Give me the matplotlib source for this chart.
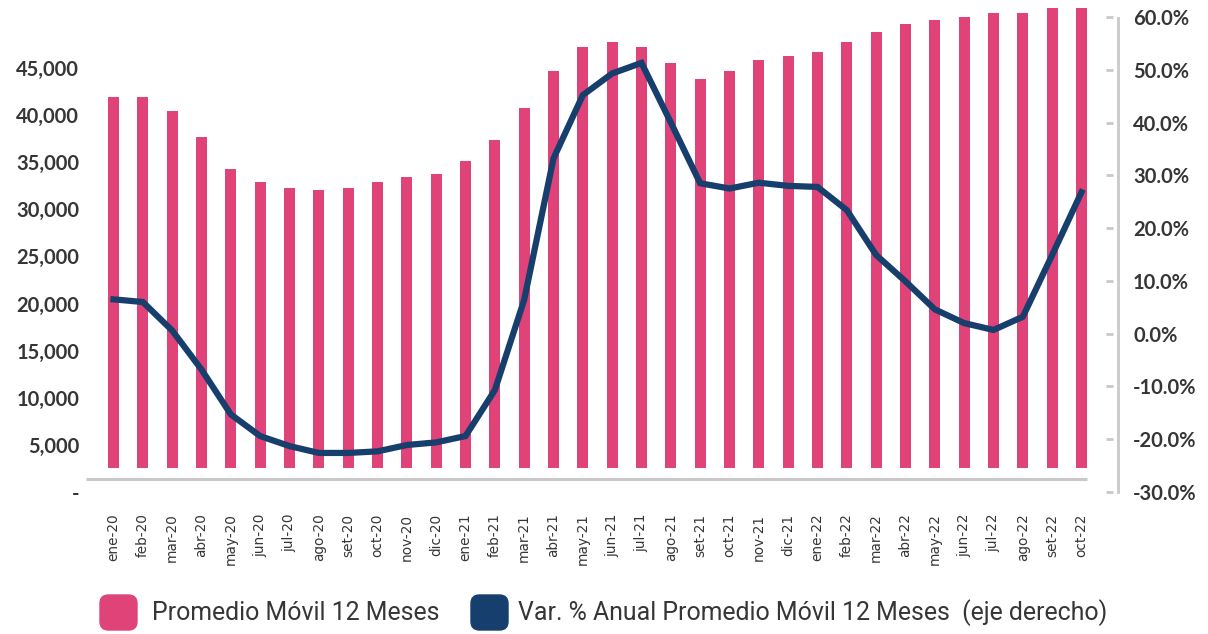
import numpy as np
import matplotlib
matplotlib.use("Agg")
import matplotlib.pyplot as plt
from matplotlib.lines import Line2D
from matplotlib.patches import FancyBboxPatch
from matplotlib.ticker import FuncFormatter

# meses ene-20 .. oct-22
meses = ["ene-20", "feb-20", "mar-20", "abr-20", "may-20", "jun-20", "jul-20", "ago-20",
         "set-20", "oct-20", "nov-20", "dic-20", "ene-21", "feb-21", "mar-21", "abr-21",
         "may-21", "jun-21", "jul-21", "ago-21", "set-21", "oct-21", "nov-21", "dic-21",
         "ene-22", "feb-22", "mar-22", "abr-22", "may-22", "jun-22", "jul-22", "ago-22",
         "set-22", "oct-22"]

# promedio movil 12 meses (eje izquierdo)
promedio = [41900, 41900, 40420, 37670, 34270, 32890, 32250, 32040,
            32250, 32890, 33420, 33740, 35120, 37350, 40740, 44670,
            47210, 47750, 47210, 45520, 43820, 44670, 45840, 46260,
            46690, 47750, 48810, 49660, 50050, 50400, 50820, 50820,
            51350, 51350]

# var. % anual del promedio movil (eje derecho)
var_anual = [6.5, 6.0, 0.6, -6.8, -15.3, -19.4, -21.3, -22.6,
             -22.6, -22.3, -21.1, -20.6, -19.4, -10.7, 6.4, 33.2,
             45.2, 49.3, 51.3, 40.0, 28.5, 27.5, 28.6, 28.0,
             27.8, 23.4, 14.9, 9.9, 4.6, 2.0, 0.7, 3.2,
             14.9, 26.8]

ticks_izq = np.arange(0, 45001, 5000)
ticks_der = np.arange(-30, 61, 10)

rosa = "#E04378"
azul = "#173F6E"
gris = "#C9C9C9"
texto = "#363636"

W, H = 1208, 634
fig = plt.figure(figsize=(W / 100, H / 100), dpi=100)
ax = fig.add_axes([86 / W, (H - 492) / H, (1113 - 86) / W, 492 / H])
ax2 = ax.twinx()

x = np.arange(len(meses))
px_x = (1081.5 - 113.5) / (len(meses) - 1)
ax.set_xlim(-(113.5 - 86) / px_x, len(meses) - 1 + (1113 - 1081.5) / px_x)

# escala izquierda: 5,000 cada ~47 px, eje derecho 10% cada ~53 px
px_val = 47.12 / 5000
ax.set_ylim(0, 492 / px_val)
ax2.set_ylim(-30, -30 + 492 / 5.278)

# barras recortadas por abajo, con la linea gris debajo
piso = 24 / px_val
ax.bar(x, np.array(promedio) - piso, bottom=piso, width=0.375, color=rosa, zorder=2)
ax.hlines(13 / px_val, ax.get_xlim()[0], len(meses) - 1 + 0.19, color=gris, lw=2.2, zorder=1)

ax2.plot(x, var_anual, color=azul, lw=4.5, solid_joinstyle="miter", zorder=3)

for a in (ax, ax2):
    for s in a.spines.values():
        s.set_visible(False)

ax.set_xticks(x)
ax.set_xticklabels(meses, rotation=90, fontsize=9.8, color=texto, family="DejaVu Sans",
                   va="top", ha="center")
ax.tick_params(axis="x", length=0, pad=15.5)

ax.set_yticks(ticks_izq)
ax.yaxis.set_major_formatter(FuncFormatter(lambda v, p: "-" if v == 0 else f"{v:,.0f}"))
ax.tick_params(axis="y", length=0, pad=5, labelsize=14.5, labelcolor=texto)
for t in ax.get_yticklabels():
    t.set_family("Lato")
    t.set_fontweight("bold")

ax2.set_yticks(ticks_der)
ax2.yaxis.set_major_formatter(FuncFormatter(lambda v, p: f"{v:.1f}%"))
ax2.tick_params(axis="y", direction="in", length=5, width=2, color=gris,
                pad=14.4, labelsize=14.5, labelcolor=texto)
for t in ax2.get_yticklabels():
    t.set_family("Lato")
    t.set_fontweight("bold")

# linea vertical del eje derecho
fig.add_artist(Line2D([1118 / W, 1118 / W], [(H - 492) / H, (H - 18) / H], color=gris, lw=2))

# leyenda
items = [(100, rosa, 152, "Promedio Móvil 12 Meses"),
         (471, azul, 518, "Var. % Anual Promedio Móvil 12 Meses  (eje derecho)")]
for x0, col, tx, lab in items:
    fig.add_artist(FancyBboxPatch((x0 / W, (H - 630) / H), 37 / W, 35 / H,
                                  boxstyle="round,pad=0,rounding_size=0.007",
                                  transform=fig.transFigure, color=col, mutation_aspect=W / H))
    fig.text(tx / W, (H - 613) / H, lab, fontsize=17.9, family="Roboto", color=texto,
             va="center", ha="left")

fig.savefig("out.png", dpi=100)
